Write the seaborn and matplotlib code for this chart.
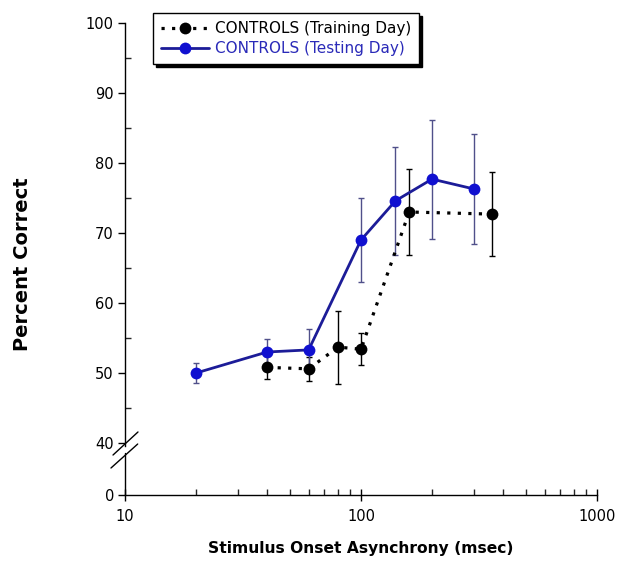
import numpy as np
import pandas as pd
import matplotlib
matplotlib.use("Agg")
import matplotlib.pyplot as plt
import seaborn as sns
from matplotlib.ticker import FixedLocator, NullFormatter

# ---- data ----
train_soa = [40, 60, 80, 100, 160, 360]
train_pct = [50.8, 50.6, 53.7, 53.4, 73.0, 72.7]
train_err = [1.6, 1.7, 5.2, 2.3, 6.1, 6.0]

test_soa = [20, 40, 60, 100, 140, 200, 300]
test_pct = [50.0, 53.0, 53.3, 69.0, 74.6, 77.7, 76.3]
test_err = [1.4, 1.8, 3.0, 6.0, 7.7, 8.5, 7.9]

train_label = "CONTROLS (Training Day)"
test_label = "CONTROLS (Testing Day)"
y_major = [0, 40, 50, 60, 70, 80, 90, 100]
y_minor = [45, 55, 65, 75, 85, 95]
x_major = [10, 100, 1000]
x_minor = [20, 30, 40, 50, 60, 70, 80, 90, 200, 300, 400, 500, 600, 700, 800, 900]

sns.set_style("ticks")
plt.rcParams["font.family"] = ["DejaVu Sans"]
plt.rcParams["text.color"] = "black"
plt.rcParams["axes.labelcolor"] = "black"

fig = plt.figure(figsize=(6.19, 5.61), dpi=100)
ax = fig.add_axes([125 / 619, 66 / 561, 472 / 619, 472 / 561])

K = 0.1857


def fwd(y):
    y = np.asarray(y, dtype=float)
    return np.where(y >= 40, y, 40 - (40 - y) * K)


def inv(y):
    y = np.asarray(y, dtype=float)
    return np.where(y >= 40, y, 40 - (40 - y) / K)


ax.set_xscale("log")
ax.set_yscale("function", functions=(fwd, inv))

train_df = pd.DataFrame({"soa": train_soa, "pct": train_pct})
test_df = pd.DataFrame({"soa": test_soa, "pct": test_pct})

blue_line = "#1c1c98"
blue_mark = "#1010d0"
blue_err = "#50508a"
blue_text = "#2a2ab8"

ax.errorbar(train_soa, train_pct, yerr=train_err, fmt="none", ecolor="black",
            elinewidth=1.0, capsize=2.5, capthick=1.0, zorder=2)
ax.errorbar(test_soa, test_pct, yerr=test_err, fmt="none", ecolor=blue_err,
            elinewidth=1.0, capsize=2.5, capthick=1.0, zorder=2)

sns.lineplot(data=train_df, x="soa", y="pct", ax=ax, color="black",
             linewidth=2.3, marker="o", markersize=8.5, markeredgewidth=0,
             label=train_label, zorder=3, dashes=False)
ax.lines[-1].set_linestyle((0, (1, 2.3)))
sns.lineplot(data=test_df, x="soa", y="pct", ax=ax, color=blue_line,
             linewidth=2.0, marker="o", markersize=8.5, markeredgewidth=0,
             markerfacecolor=blue_mark, label=test_label, zorder=4)

ax.set_xlim(10, 1000)
ax.set_ylim(0, 100)

ax.xaxis.set_major_locator(FixedLocator(x_major))
ax.xaxis.set_minor_locator(FixedLocator(x_minor))
ax.set_xticklabels([str(v) for v in x_major])
ax.xaxis.set_minor_formatter(NullFormatter())
ax.yaxis.set_major_locator(FixedLocator(y_major))
ax.yaxis.set_minor_locator(FixedLocator(y_minor))
ax.set_yticklabels([str(v) for v in y_major])
ax.yaxis.set_minor_formatter(NullFormatter())

ax.tick_params(axis="y", which="major", direction="out", length=5, width=1,
               labelsize=10.5, pad=3, colors="black")
ax.tick_params(axis="y", which="minor", direction="in", length=4, width=1)
ax.tick_params(axis="x", which="major", direction="inout", length=8, width=1,
               labelsize=10.5, pad=6, colors="black")
ax.tick_params(axis="x", which="minor", direction="in", length=4, width=1)

for s in ["top", "right"]:
    ax.spines[s].set_visible(False)
for s in ["left", "bottom"]:
    ax.spines[s].set_linewidth(1.0)
    ax.spines[s].set_color("black")
ax.spines["left"].set_bounds(37.5, 100)
ax.plot([0, 0], [0, 32], transform=ax.get_yaxis_transform(), color="black",
        lw=1.0, clip_on=False, zorder=5)
# axis break marks
ax.plot([0.0275, -0.0254], [0.1335, 0.0847], transform=ax.transAxes,
        color="black", lw=1.0, clip_on=False)
ax.plot([0.0269, -0.0297], [0.108, 0.0572], transform=ax.transAxes,
        color="black", lw=1.0, clip_on=False)

ax.set_xlabel("Stimulus Onset Asynchrony (msec)", fontsize=11.2,
              fontweight="bold", color="black")
ax.set_ylabel("Percent Correct", fontsize=14, fontweight="bold", color="black")
ax.xaxis.set_label_coords(0.5, -0.097)
ax.yaxis.set_label_coords(-0.197, 0.49)

leg = ax.legend(loc="upper left", bbox_to_anchor=(0.059, 1.021), borderaxespad=0,
                frameon=True, fancybox=False, edgecolor="black", fontsize=11,
                handlelength=3.1, handletextpad=0.4, borderpad=0.55,
                labelspacing=0.3, shadow={"color": "black", "alpha": 1.0},
                labelcolor=["black", blue_text])
leg.get_frame().set_linewidth(1.0)

fig.savefig("out.png", dpi=100)
